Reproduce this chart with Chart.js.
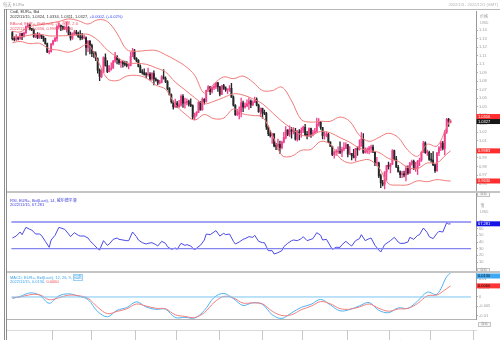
<!DOCTYPE html>
<html lang="zh">
<head>
<meta charset="utf-8">
<title>EUR= 每天</title>
<script src="https://cdn.jsdelivr.net/npm/chart.js@4.4.1/dist/chart.umd.min.js"></script>
<style>
  html, body { margin: 0; padding: 0; background: #fff; }
  #board { position: relative; width: 500px; height: 340px; overflow: hidden;
           font-family: "Liberation Sans", Arial, "Noto Sans CJK SC", sans-serif; }
  #board canvas { position: absolute; left: 0; top: 0; }
  .lbl { position: absolute; white-space: nowrap; font-size: 4px; line-height: 4px; }
  .box { position: absolute; width: 13px; height: 4.5px; border: 1px solid #c4c4c4; background: #f6f6f6;
         color: #999; font-size: 3.3px; line-height: 2.8px; text-align: center; box-sizing: border-box; }
</style>
</head>
<body>
<div id="board">
  <canvas id="chart" width="500" height="340"></canvas>

  <div class="lbl" style="left:3px;top:2.5px;color:#a8a8a8;font-size:4.3px">每天 EUR=</div>
  <div class="lbl" style="right:2px;top:2.7px;color:#b0b0b0">2022/1/3 - 2022/12/1 (GMT)</div>

  <div class="lbl" style="left:10px;top:10.3px;color:#333">Cndl, EUR=, Bid</div>
  <div class="lbl" style="left:10px;top:14.7px;color:#333">2022/11/15, 1.0324, 1.0334, 1.0311, 1.0327, <span style="color:#3348ff">+0.0002, (+0.02%)</span></div>
  <div class="lbl" style="left:10px;top:22px;color:#ee4d62">BBand, EUR=, Bid(Last), 20, 简单, 2.0</div>
  <div class="lbl" style="left:10px;top:26.7px;color:#ee4d62">2022/11/15, 1.0356, 0.9983, 0.9630</div>

  <div class="lbl" style="left:10px;top:198.7px;color:#3b3bd8">RSI, EUR=, Bid(Last), 14, 威尔德平滑</div>
  <div class="lbl" style="left:10px;top:203px;color:#3b3bd8">2022/11/15, 67.281</div>

  <div class="lbl" style="left:10px;top:275.7px;color:#3aa3ea">MACD, EUR=, Bid(Last), 12, 26, 9, <span style="border:0.5px solid #9cd0f4">指数</span></div>
  <div class="lbl" style="left:10px;top:280px;color:#3aa3ea">2022/11/15, 0.0130, <span style="color:#f0484f">0.0060</span></div>

  <div class="lbl" style="left:480px;top:14.7px;color:#a0a0a0">价格</div>
  <div class="lbl" style="left:480px;top:21.3px;color:#a0a0a0">USD</div>
  <div class="lbl" style="left:480.5px;top:204px;color:#a0a0a0">值</div>
  <div class="lbl" style="left:480px;top:210.3px;color:#a0a0a0">USD</div>

  <div class="box" style="left:477px;top:192px">自动</div>
  <div class="box" style="left:477px;top:267.5px">自动</div>
  <div class="box" style="left:478px;top:322px">自动</div>
</div>

<script>
// Weekday calendar, 3 Jan .. 1 Dec 2022 (FX trades every weekday)
const tradingDays = [];
for (let t = Date.UTC(2022, 0, 3); t <= Date.UTC(2022, 11, 1); t += 86400000) {
  const wd = new Date(t).getUTCDay();
  if (wd > 0 && wd < 6) tradingDays.push(new Date(t).toISOString().slice(5, 10));
}
const dayIndex = {};
tradingDays.forEach((d, i) => { dayIndex[d] = i; });

const monthNames = ['2022 一月', '2022 二月', '2022 三月', '2022 四月', '2022 五月', '2022 六月',
  '2022 七月', '2022 八月', '2022 九月', '2022 十月', '2022 十一月'];
const priceTicks = [0.96, 0.97, 0.98, 0.99, 1.00, 1.01, 1.02, 1.03, 1.04, 1.05, 1.06, 1.07,
  1.08, 1.09, 1.10, 1.11, 1.12, 1.13, 1.14];
const rsiTicks = [10, 20, 30, 40, 50, 60, 70];
const macdTicks = [-0.01, -0.005, 0, 0.005, 0.01];

// Daily EUR= candles, one row per month
const open = [
  1.1370,1.1299,1.1287,1.1313,1.1296,1.1359,1.1326,1.1368,1.1440,1.1455,1.1412,1.1404,1.1325,1.1344,1.1313,1.1343,1.1326,1.1303,1.1240,1.1144,1.1147,
  1.1235,1.1272,1.1303,1.1440,1.1453,1.1442,1.1417,1.1423,1.1427,1.1349,1.1306,1.1357,1.1375,1.1361,1.1321,1.1309,1.1308,1.1309,1.1196,1.1270,
  1.1219,1.1126,1.1121,1.1063,1.0929,1.0856,1.0904,1.1076,1.0985,1.0913,1.0942,1.0955,1.1036,1.1092,1.1051,1.1016,1.1030,1.1004,1.0997,1.0983,1.0985,1.1089,1.1157,
  1.1067,1.1045,1.0972,1.0902,1.0901,1.0880,1.0876,1.0884,1.0828,1.0890,1.0826,1.0809,1.0779,1.0788,1.0851,1.0835,1.0797,1.0713,1.0641,1.0556,1.0499,
  1.0544,1.0502,1.0523,1.0622,1.0541,1.0551,1.0560,1.0530,1.0514,1.0379,1.0410,1.0435,1.0551,1.0464,1.0587,1.0562,1.0693,1.0733,1.0678,1.0725,1.0733,1.0780,
  1.0733,1.0649,1.0750,1.0719,1.0697,1.0705,1.0716,1.0614,1.0518,1.0408,1.0413,1.0445,1.0547,1.0496,1.0511,1.0535,1.0566,1.0521,1.0554,1.0584,1.0518,1.0443,
  1.0482,1.0426,1.0424,1.0265,1.0184,1.0160,1.0184,1.0041,1.0036,1.0061,1.0020,1.0084,1.0141,1.0228,1.0180,1.0229,1.0212,1.0222,1.0119,1.0199,1.0196,
  1.0225,1.0260,1.0166,1.0165,1.0245,1.0181,1.0195,1.0211,1.0296,1.0319,1.0257,1.0161,1.0170,1.0177,1.0089,1.0036,0.9942,0.9967,0.9970,0.9974,0.9965,1.0002,1.0015,
  1.0056,0.9945,0.9954,0.9928,0.9903,1.0009,0.9999,1.0040,1.0121,0.9966,0.9978,0.9997,1.0015,1.0027,0.9969,0.9838,0.9839,0.9690,0.9608,0.9594,0.9737,0.9814,
  0.9801,0.9826,0.9986,0.9887,0.9791,0.9738,0.9704,0.9706,0.9702,0.9779,0.9723,0.9838,0.9861,0.9774,0.9780,0.9862,0.9876,0.9966,1.0078,0.9963,0.9966,
  0.9883,0.9875,0.9819,0.9750,0.9959,1.0020,1.0074,1.0011,1.0203,1.0354,1.0324
];
const high = [
  1.1386,1.1323,1.1346,1.1320,1.1364,1.1363,1.1375,1.1449,1.1482,1.1470,1.1421,1.1413,1.1357,1.1369,1.1364,1.1346,1.1331,1.1305,1.1246,1.1160,1.1244,
  1.1281,1.1315,1.1451,1.1483,1.1458,1.1445,1.1446,1.1495,1.1439,1.1375,1.1368,1.1395,1.1395,1.1376,1.1394,1.1360,1.1343,1.1319,1.1275,1.1275,
  1.1235,1.1150,1.1145,1.1075,1.0945,1.0933,1.1087,1.1120,1.1043,1.0984,1.1016,1.1044,1.1137,1.1100,1.1063,1.1040,1.1040,1.1035,1.1030,1.1000,1.1138,1.1185,1.1174,
  1.1077,1.1054,1.0993,1.0936,1.0945,1.0900,1.0953,1.0900,1.0900,1.0923,1.0840,1.0820,1.0810,1.0866,1.0936,1.0852,1.0806,1.0724,1.0653,1.0570,1.0591,
  1.0565,1.0575,1.0640,1.0642,1.0601,1.0594,1.0578,1.0594,1.0523,1.0425,1.0444,1.0560,1.0565,1.0606,1.0596,1.0697,1.0748,1.0737,1.0735,1.0765,1.0787,1.0786,
  1.0739,1.0750,1.0764,1.0733,1.0710,1.0749,1.0774,1.0628,1.0525,1.0470,1.0500,1.0601,1.0566,1.0545,1.0582,1.0606,1.0581,1.0570,1.0615,1.0606,1.0532,1.0487,
  1.0485,1.0461,1.0435,1.0277,1.0221,1.0188,1.0187,1.0072,1.0121,1.0098,1.0097,1.0201,1.0269,1.0232,1.0278,1.0257,1.0257,1.0248,1.0220,1.0234,1.0254,
  1.0274,1.0293,1.0212,1.0254,1.0250,1.0228,1.0248,1.0368,1.0363,1.0329,1.0260,1.0202,1.0202,1.0192,1.0090,1.0040,0.9981,0.9999,1.0030,1.0090,1.0028,1.0079,1.0079,
  1.0060,1.0033,0.9955,1.0000,1.0013,1.0030,1.0113,1.0198,1.0187,1.0020,1.0018,1.0037,1.0050,1.0051,0.9976,0.9907,0.9852,0.9710,0.9637,0.9737,0.9815,0.9853,
  0.9838,0.9999,0.9991,0.9918,0.9815,0.9749,0.9744,0.9747,0.9807,0.9807,0.9849,0.9874,0.9875,0.9848,0.9872,0.9899,0.9975,1.0094,1.0088,0.9991,0.9980,
  0.9954,0.9976,0.9828,0.9964,1.0033,1.0095,1.0094,1.0223,1.0364,1.0365,1.0334
];
const low = [
  1.1285,1.1272,1.1276,1.1285,1.1292,1.1286,1.1315,1.1355,1.1435,1.1400,1.1393,1.1313,1.1311,1.1300,1.1303,1.1299,1.1265,1.1235,1.1135,1.1121,1.1140,
  1.1221,1.1262,1.1270,1.1419,1.1392,1.1400,1.1403,1.1374,1.1342,1.1280,1.1290,1.1343,1.1339,1.1314,1.1285,1.1291,1.1296,1.1106,1.1145,1.1120,
  1.1089,1.1080,1.1040,1.0894,1.0806,1.0840,1.0900,1.0977,1.0900,1.0910,1.0930,1.0950,1.1020,1.1004,1.0997,1.0962,1.0964,1.0980,1.0966,1.0945,1.0980,1.1088,1.1056,
  1.1027,1.0966,1.0900,1.0882,1.0871,1.0837,1.0860,1.0812,1.0810,1.0757,1.0799,1.0760,1.0769,1.0780,1.0825,1.0783,1.0697,1.0636,1.0543,1.0471,1.0493,
  1.0490,1.0493,1.0507,1.0493,1.0484,1.0521,1.0508,1.0500,1.0354,1.0350,1.0389,1.0430,1.0460,1.0461,1.0532,1.0555,1.0680,1.0641,1.0661,1.0700,1.0713,1.0680,
  1.0627,1.0642,1.0705,1.0681,1.0653,1.0680,1.0610,1.0506,1.0398,1.0397,1.0359,1.0382,1.0444,1.0485,1.0502,1.0469,1.0491,1.0514,1.0548,1.0509,1.0435,1.0383,
  1.0366,1.0407,1.0236,1.0162,1.0144,1.0072,1.0030,0.9998,0.9998,0.9952,1.0007,1.0076,1.0123,1.0161,1.0154,1.0131,1.0183,1.0110,1.0096,1.0113,1.0144,
  1.0197,1.0161,1.0123,1.0150,1.0141,1.0159,1.0190,1.0202,1.0274,1.0234,1.0122,1.0121,1.0146,1.0080,1.0034,0.9926,0.9899,0.9929,0.9950,0.9951,0.9914,0.9984,1.0010,
  0.9911,0.9941,0.9877,0.9900,0.9864,0.9929,0.9990,1.0036,0.9954,0.9955,0.9954,0.9946,0.9966,0.9965,0.9810,0.9807,0.9669,0.9552,0.9573,0.9536,0.9636,0.9768,
  0.9724,0.9820,0.9876,0.9788,0.9734,0.9670,0.9668,0.9677,0.9632,0.9707,0.9721,0.9815,0.9764,0.9741,0.9705,0.9810,0.9860,0.9964,0.9953,0.9930,0.9871,
  0.9852,0.9811,0.9730,0.9741,0.9928,0.9985,0.9994,0.9935,1.0187,1.0271,1.0311
];
const close = [
  1.1299,1.1287,1.1313,1.1296,1.1359,1.1326,1.1368,1.1440,1.1455,1.1412,1.1404,1.1325,1.1344,1.1313,1.1343,1.1326,1.1303,1.1240,1.1144,1.1147,1.1235,
  1.1272,1.1303,1.1440,1.1453,1.1442,1.1417,1.1423,1.1427,1.1349,1.1306,1.1357,1.1375,1.1361,1.1321,1.1309,1.1308,1.1309,1.1196,1.1270,1.1219,
  1.1126,1.1121,1.1063,1.0929,1.0856,1.0904,1.1076,1.0985,1.0913,1.0942,1.0955,1.1036,1.1092,1.1051,1.1016,1.1030,1.1004,1.0997,1.0983,1.0985,1.1089,1.1157,1.1067,
  1.1045,1.0972,1.0902,1.0901,1.0880,1.0876,1.0884,1.0828,1.0890,1.0826,1.0809,1.0779,1.0788,1.0851,1.0835,1.0797,1.0713,1.0641,1.0556,1.0499,1.0544,
  1.0502,1.0523,1.0622,1.0541,1.0551,1.0560,1.0530,1.0514,1.0379,1.0410,1.0435,1.0551,1.0464,1.0587,1.0562,1.0693,1.0733,1.0678,1.0725,1.0733,1.0780,1.0733,
  1.0649,1.0750,1.0719,1.0697,1.0705,1.0716,1.0614,1.0518,1.0408,1.0413,1.0445,1.0547,1.0496,1.0511,1.0535,1.0566,1.0521,1.0554,1.0584,1.0518,1.0443,1.0482,
  1.0426,1.0424,1.0265,1.0184,1.0160,1.0184,1.0041,1.0036,1.0061,1.0020,1.0084,1.0141,1.0228,1.0180,1.0229,1.0212,1.0222,1.0119,1.0199,1.0196,1.0225,
  1.0260,1.0166,1.0165,1.0245,1.0181,1.0195,1.0211,1.0296,1.0319,1.0257,1.0161,1.0170,1.0177,1.0089,1.0036,0.9942,0.9967,0.9970,0.9974,0.9965,1.0002,1.0015,1.0056,
  0.9945,0.9954,0.9928,0.9903,1.0009,0.9999,1.0040,1.0121,0.9966,0.9978,0.9997,1.0015,1.0027,0.9969,0.9838,0.9839,0.9690,0.9608,0.9594,0.9737,0.9814,0.9801,
  0.9826,0.9986,0.9887,0.9791,0.9738,0.9704,0.9706,0.9702,0.9779,0.9723,0.9838,0.9861,0.9774,0.9780,0.9862,0.9876,0.9966,1.0078,0.9963,0.9966,0.9883,
  0.9875,0.9819,0.9750,0.9959,1.0020,1.0074,1.0011,1.0203,1.0354,1.0325,1.0327
];

// Bollinger (20, 2.0) and MACD (12, 26, 9), read once a week
const weekDates = ['01-03','01-07','01-14','01-21','01-28','02-04','02-11','02-18','02-25','03-04','03-11','03-18',
  '03-25','04-01','04-08','04-15','04-22','04-29','05-06','05-13','05-20','05-27','06-03','06-10','06-17','06-24',
  '07-01','07-08','07-15','07-22','07-29','08-05','08-12','08-19','08-26','09-02','09-09','09-16','09-23','09-30',
  '10-07','10-14','10-21','10-28','11-04','11-11','11-15'];
const bbUpper = [1.1385,1.1378,1.1440,1.1460,1.1480,1.1500,1.1530,1.1510,1.1470,1.1520,1.1500,1.1360,
  1.1170,1.1150,1.1160,1.1160,1.1110,1.1050,1.0980,1.0870,1.0660,1.0770,1.0850,1.0830,1.0860,1.0790,
  1.0690,1.0690,1.0730,1.0570,1.0350,1.0320,1.0330,1.0330,1.0380,1.0330,1.0165,1.0095,1.0140,1.0190,
  1.0140,0.9990,0.9920,1.0060,1.0040,1.0260,1.0356];
const bbMiddle = [1.1318,1.1322,1.1340,1.1352,1.1330,1.1332,1.1335,1.1345,1.1350,1.1282,1.1165,1.1083,
  1.1015,1.1009,1.0999,1.0957,1.0908,1.0789,1.0699,1.0607,1.0535,1.0565,1.0609,1.0652,1.0638,1.0594,
  1.0535,1.0433,1.0330,1.0245,1.0170,1.0160,1.0212,1.0195,1.0138,1.0085,1.0015,0.9987,0.9965,0.9894,
  0.9861,0.9788,0.9776,0.9841,0.9843,0.9946,0.9983];
const bbLower = [1.1250,1.1266,1.1240,1.1244,1.1180,1.1164,1.1140,1.1180,1.1230,1.1044,1.0830,1.0806,
  1.0860,1.0868,1.0838,1.0754,1.0706,1.0528,1.0418,1.0344,1.0410,1.0360,1.0368,1.0474,1.0416,1.0398,
  1.0380,1.0176,0.9930,0.9920,0.9990,1.0000,1.0094,1.0060,0.9896,0.9840,0.9865,0.9879,0.9790,0.9598,
  0.9582,0.9586,0.9632,0.9622,0.9646,0.9632,0.9630];
const macdLine = [-0.0008,0.0003,0.0022,0.0010,-0.0034,0.0006,0.0017,0.0005,-0.0014,-0.0079,-0.0107,-0.0072,
  -0.0057,-0.0026,-0.0054,-0.0067,-0.0066,-0.0111,-0.0110,-0.0114,-0.0073,-0.0003,0.0019,-0.0009,-0.0046,-0.0031,
  -0.0040,-0.0096,-0.0116,-0.0086,-0.0056,-0.0040,-0.0013,-0.0043,-0.0075,-0.0068,-0.0048,-0.0030,-0.0072,-0.0085,
  -0.0059,-0.0061,-0.0022,0.0026,0.0015,0.0110,0.0130];
const macdSignal = [-0.0004,0.0000,0.0012,0.0012,-0.0015,-0.0004,0.0010,0.0007,-0.0007,-0.0055,-0.0090,-0.0078,
  -0.0064,-0.0038,-0.0049,-0.0061,-0.0064,-0.0096,-0.0105,-0.0111,-0.0085,-0.0030,0.0003,-0.0005,-0.0033,-0.0032,
  -0.0037,-0.0077,-0.0100,-0.0096,-0.0069,-0.0050,-0.0025,-0.0037,-0.0063,-0.0066,-0.0054,-0.0038,-0.0061,-0.0077,
  -0.0065,-0.0062,-0.0035,0.0006,0.0011,0.0045,0.0060];

// RSI (14), Mon / Wed / Fri
const rsiDates = [
  '01-03','01-05','01-07','01-10','01-12','01-14','01-17','01-19','01-21','01-24','01-26','01-28','01-31',
  '02-02','02-04','02-07','02-09','02-11','02-14','02-16','02-18','02-21','02-23','02-25','02-28',
  '03-02','03-04','03-07','03-09','03-11','03-14','03-16','03-18','03-21','03-23','03-25','03-28','03-30',
  '04-01','04-04','04-06','04-08','04-11','04-13','04-15','04-18','04-20','04-22','04-25','04-27','04-29',
  '05-02','05-04','05-06','05-09','05-11','05-13','05-16','05-18','05-20','05-23','05-25','05-27','05-30',
  '06-01','06-03','06-06','06-08','06-10','06-13','06-15','06-17','06-20','06-22','06-24','06-27','06-29',
  '07-01','07-04','07-06','07-08','07-11','07-13','07-15','07-18','07-20','07-22','07-25','07-27','07-29',
  '08-01','08-03','08-05','08-08','08-10','08-12','08-15','08-17','08-19','08-22','08-24','08-26','08-29','08-31',
  '09-02','09-05','09-07','09-09','09-12','09-14','09-16','09-19','09-21','09-23','09-26','09-28','09-30',
  '10-03','10-05','10-07','10-10','10-12','10-14','10-17','10-19','10-21','10-24','10-26','10-28','10-31',
  '11-02','11-04','11-07','11-09','11-11','11-14','11-15'
];
const rsiValues = [
  46,49,55,51,62,59,58,52,52,50,41,32,43,
  50,62,61,59,52,48,54,50,49,49,46,42,
  36,30,28,42,35,37,44,46,44,43,42,42,55,
  48,43,39,37,38,39,36,34,41,38,33,29,31,
  29,38,35,36,34,28,31,35,43,52,51,55,57,
  49,53,51,52,41,37,40,44,45,48,47,50,41,
  39,39,27,27,22,24,27,33,38,42,43,42,45,
  48,42,44,45,54,50,43,44,34,29,32,32,36,41,
  36,34,42,45,51,42,45,46,35,28,25,36,40,
  42,47,40,38,38,40,47,44,50,51,61,54,48,
  45,53,56,55,69,67,67.281
];

const UP = '#f0418f';
const DOWN = '#262626';
const BAND = '#f07a7a';
const X_MIN = -0.5, X_MAX = 236.6;

const pts = (dates, vals) => dates.map((d, i) => ({ x: dayIndex[d], y: vals[i] }));
const candleColor = c => (close[c.dataIndex] >= open[c.dataIndex] ? UP : DOWN);
const last = a => a[a.length - 1];

const mondays = tradingDays.map((d, i) => i).filter(i => i % 5 === 0 && i <= X_MAX);
const monthStarts = tradingDays.map((d, i) => i).filter(i => i === 0 || tradingDays[i].slice(0, 2) !== tradingDays[i - 1].slice(0, 2));
const monthMids = monthStarts.slice(0, monthNames.length).map((s, k) => {
  const end = Math.min(k + 1 < monthStarts.length ? monthStarts[k + 1] - 1 : tradingDays.length - 1, X_MAX);
  return (s + end) / 2;
});

const tickFont = { size: 4, family: '"Liberation Sans", Arial, "Noto Sans CJK SC", sans-serif' };
const yAxis = (stackWeight, min, max, ticks, fmt) => ({
  type: 'linear', position: 'right', stack: 'panes', stackWeight, min, max,
  afterBuildTicks: s => { s.ticks = ticks.map(v => ({ value: v })); },
  afterFit: s => { s.width = 24; },
  ticks: { autoSkip: false, font: tickFont, color: '#9a9a9a', padding: 1, callback: fmt },
  grid: { display: true, drawOnChartArea: false, drawTicks: true, tickLength: 2, color: '#b0b0b0' },
  border: { display: true, color: '#9a9a9a' }
});

// Value tags on the right axis, frames, separators
const frame = {
  id: 'frame',
  afterDraw(chart) {
    const { ctx, chartArea: a, scales } = chart;
    ctx.save();
    ctx.fillStyle = '#c4c4c4';
    ctx.fillRect(a.left, scales.rsi.top - 1, 500 - a.left, 2);
    ctx.fillRect(a.left, scales.macd.top - 1, 500 - a.left, 2);
    ctx.fillStyle = '#b8b8b8';
    ctx.fillRect(4, 9, 496, 1);
    ctx.fillStyle = '#8e8e8e';
    ctx.fillRect(4, 9, 1, 331);
    ctx.fillRect(6, 9, 1, 331);

    ctx.fillStyle = '#c8c8c8';
    monthStarts.forEach(i => {
      if (i === 0) return;
      const x = Math.round(scales.x.getPixelForValue(i - 0.5)) + 0.5;
      ctx.fillRect(x - 0.5, 330, 1, 10);
    });

    const tags = [
      { s: scales.price, v: last(bbUpper), t: last(bbUpper).toFixed(4), bg: '#ff2d2d', fg: '#fff' },
      { s: scales.price, v: last(close), t: last(close).toFixed(4), bg: '#161616', fg: '#fff', fixed: true },
      { s: scales.price, v: last(bbMiddle), t: last(bbMiddle).toFixed(4), bg: '#ff2d2d', fg: '#fff' },
      { s: scales.price, v: last(bbLower), t: last(bbLower).toFixed(4), bg: '#ff2d2d', fg: '#fff' },
      { s: scales.rsi, v: last(rsiValues), t: last(rsiValues).toFixed(3), bg: '#1515e8', fg: '#fff' },
      { s: scales.macd, v: last(macdLine), t: last(macdLine).toFixed(4), bg: '#3ea9f2', fg: '#111' },
      { s: scales.macd, v: last(macdSignal), t: last(macdSignal).toFixed(4), bg: '#ff3434', fg: '#111' }
    ];
    const h = 5;
    tags.forEach(g => {
      g.y = Math.min(Math.max(g.s.getPixelForValue(g.v), g.s.top + h / 2 + 1.5), g.s.bottom - h / 2 - 1);
    });
    const priceTags = tags.filter(g => g.s === scales.price).sort((p, q) => p.y - q.y);
    for (let i = 1; i < priceTags.length; i++) {
      const p = priceTags[i - 1], q = priceTags[i];
      if (q.y - p.y < h) {
        if (p.fixed) q.y = p.y + h; else p.y = q.y - h;
      }
    }
    ctx.font = '4px "Liberation Sans", Arial, sans-serif';
    ctx.textBaseline = 'middle';
    tags.forEach(g => {
      ctx.fillStyle = g.bg;
      ctx.fillRect(a.right + 0.5, g.y - h / 2, 500 - a.right, h);
      ctx.fillStyle = g.fg;
      ctx.fillText(g.t, a.right + 2, g.y + 0.2);
    });
    ctx.restore();
  }
};

new Chart(document.getElementById('chart'), {
  type: 'bar',
  data: {
    datasets: [
      {
        label: 'wick', data: close.map((c, i) => ({ x: i, y: [low[i], high[i]] })),
        backgroundColor: candleColor, barThickness: 0.7, grouped: false, minBarLength: 1,
        xAxisID: 'x', yAxisID: 'price', order: 3
      },
      {
        label: 'body', data: close.map((c, i) => ({ x: i, y: [open[i], c] })),
        backgroundColor: candleColor, barThickness: 1.25, grouped: false, minBarLength: 1,
        xAxisID: 'x', yAxisID: 'price', order: 2
      },
      { type: 'line', label: 'BB upper', data: pts(weekDates, bbUpper), borderColor: BAND, yAxisID: 'price', order: 1 },
      { type: 'line', label: 'BB middle', data: pts(weekDates, bbMiddle), borderColor: BAND, yAxisID: 'price', order: 1 },
      { type: 'line', label: 'BB lower', data: pts(weekDates, bbLower), borderColor: BAND, yAxisID: 'price', order: 1 },
      { type: 'line', label: 'RSI 70', data: [{ x: X_MIN, y: 70 }, { x: X_MAX, y: 70 }], borderColor: '#8585f2', borderWidth: 1.4, yAxisID: 'rsi', tension: 0 },
      { type: 'line', label: 'RSI 30', data: [{ x: X_MIN, y: 30 }, { x: X_MAX, y: 30 }], borderColor: '#8585f2', borderWidth: 1.4, yAxisID: 'rsi', tension: 0 },
      { type: 'line', label: 'RSI', data: pts(rsiDates, rsiValues), borderColor: '#4a4ae6', yAxisID: 'rsi', tension: 0 },
      { type: 'line', label: 'MACD 0', data: [{ x: X_MIN, y: 0 }, { x: X_MAX, y: 0 }], borderColor: '#7cc5f3', yAxisID: 'macd', tension: 0 },
      { type: 'line', label: 'Signal', data: pts(weekDates, macdSignal), borderColor: '#f27f7f', yAxisID: 'macd' },
      { type: 'line', label: 'MACD', data: pts(weekDates, macdLine), borderColor: '#4fb3f3', yAxisID: 'macd' }
    ]
  },
  options: {
    responsive: false,
    animation: false,
    devicePixelRatio: 1,
    layout: { padding: { left: 6.5, top: 11, right: 0, bottom: 0 } },
    elements: {
      line: { borderWidth: 1, tension: 0.35, fill: false },
      point: { radius: 0, hoverRadius: 0 },
      bar: { borderWidth: 0 }
    },
    plugins: { legend: { display: false }, tooltip: { enabled: false } },
    scales: {
      x: {
        type: 'linear', position: 'bottom', min: X_MIN, max: X_MAX,
        afterBuildTicks: s => { s.ticks = mondays.map(v => ({ value: v })); },
        afterFit: s => { s.height = 11; },
        ticks: { autoSkip: false, maxRotation: 0, font: tickFont, color: '#9a9a9a', padding: 4,
                 callback: v => tradingDays[v].slice(3) },
        grid: { display: false },
        border: { display: true, color: '#b4b4b4' }
      },
      months: {
        type: 'linear', position: 'bottom', min: X_MIN, max: X_MAX,
        afterBuildTicks: s => { s.ticks = monthMids.map(v => ({ value: v })); },
        afterFit: s => { s.height = 10; },
        ticks: { autoSkip: false, maxRotation: 0, font: tickFont, color: '#9a9a9a', padding: 2,
                 callback: (v, i) => monthNames[i] },
        grid: { display: false },
        border: { display: true, color: '#dadada' }
      },
      price: yAxis(181, 0.9501, 1.1623, priceTicks, v => String(+v.toFixed(2))),
      rsi: yAxis(80, -5, 115, rsiTicks, v => String(v)),
      macd: yAxis(47, -0.0119, 0.0135, macdTicks, v => String(+v.toFixed(3)))
    }
  },
  plugins: [frame]
});
</script>
</body>
</html>
